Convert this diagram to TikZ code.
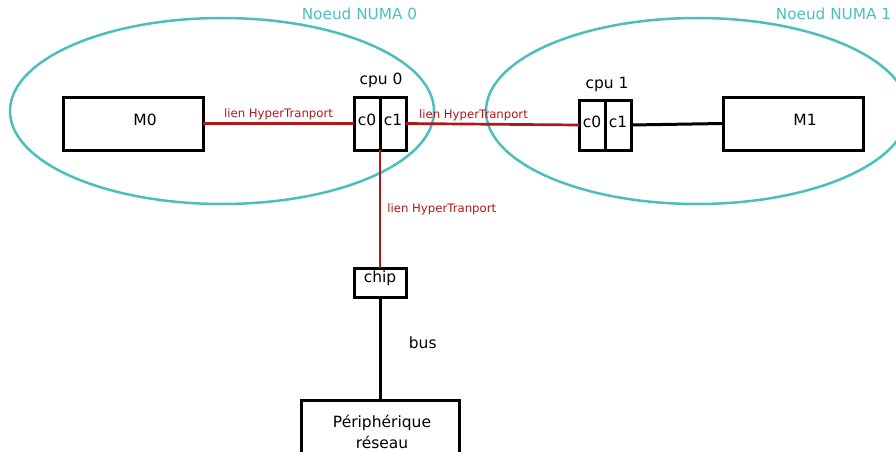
\documentclass[tikz,border=0pt]{standalone}
\usepackage{fontspec}
\setmainfont{DejaVu Sans}
\usetikzlibrary{positioning}
\definecolor{numa}{RGB}{77,190,190}
\definecolor{htred}{RGB}{178,22,22}
\tikzset{
  box/.style={draw,line width=3pt,inner sep=0pt,outer sep=0pt},
  cell/.style={box,minimum width=26pt,text depth=7pt},
  numaline/.style={draw=numa,line width=2.5pt},
  numalabel/.style={text=numa,font=\fontsize{15.3}{18}\selectfont},
  ht/.style={draw=htred,line width=2.7pt},
  htlabel/.style={text=htred,font=\fontsize{11.7}{13}\selectfont,inner sep=1pt},
  wire/.style={draw,line width=3pt}
}

\begin{document}
\begin{tikzpicture}[x=1pt,y=-1pt,font=\fontsize{15.5}{21}\selectfont]
\useasboundingbox (0,0) rectangle (896,452);
\draw[numaline] (222,111) ellipse [x radius=212, y radius=93];
\draw[numaline] (697,111) ellipse [x radius=211, y radius=93];
\node[numalabel] (n0) at (359.5,14) {Noeud NUMA 0};
\node[numalabel] (n1) at (833.5,14) {Noeud NUMA 1};

\node[box,minimum width=140pt,minimum height=53pt] (m0) at (133,123.5) {};
\node (m0t) at (145,120) {M0};
\node[cell,minimum height=53pt] (c00) at (367,123.5) {c0};
\node[cell,minimum height=53pt,right=0pt of c00] (c01) {c1};
\node (cpu0) at (381,80) {cpu 0};

\node[cell,minimum height=50pt] (c10) at (592,125) {c0};
\node[cell,minimum height=50pt,right=0pt of c10] (c11) {c1};
\node (cpu1) at (607,84) {cpu 1};
\node[box,minimum width=140pt,minimum height=53pt] (m1) at (793,123.5) {};
\node (m1t) at (805,120) {M1};

\node[box,minimum width=52pt,minimum height=29pt] (chip) at (380,282.5) {};
\node (chipt) at (380,278) {chip};
\node[box,minimum width=158pt,minimum height=70pt] (net) at (380,435) {};
\node[align=center] (nett) at (382,431.5) {Périphérique\\réseau};

\draw[ht] (m0.east) -- node[htlabel,above=1pt] (ht1) {lien HyperTranport} (c00.west);
\draw[ht] (c01.east) -- node[htlabel,above=1pt,pos=0.39] (ht2) {lien HyperTranport} (c10.west);
\draw[ht] (c00.south east) -- node[htlabel,right=5pt] (ht3) {lien HyperTranport} (chip.north);
\draw[wire] (c11.east) -- (m1.west);
\draw[wire] (chip.south) -- node[pos=0.44,right=24pt] (bus) {bus} (net.north);
\end{tikzpicture}
\end{document}
